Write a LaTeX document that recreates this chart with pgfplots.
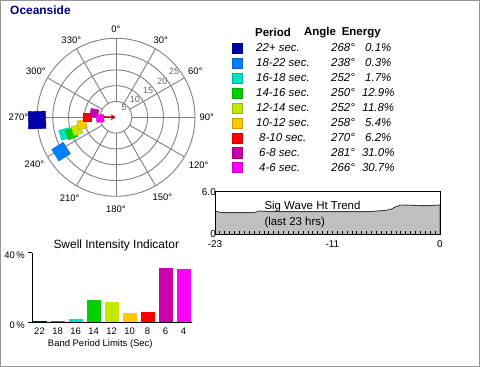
\documentclass[border=0pt]{standalone}
\usepackage{pgfplots}
\pgfplotsset{compat=1.18}
\usepackage{pgfplotstable}
\usetikzlibrary{arrows.meta}
\usepackage{fontspec}
\setmainfont{Liberation Sans}
\newcommand\fs[1]{\fontsize{#1}{#1}\selectfont}

\definecolor{ttl}{RGB}{0,0,128}
\definecolor{gridc}{RGB}{128,128,128}
\definecolor{ringlab}{RGB}{100,100,100}
\definecolor{arr}{RGB}{170,0,0}
\definecolor{areag}{RGB}{192,192,192}
\definecolor{frame}{RGB}{150,150,150}
\definecolor{cA}{RGB}{0,0,170}
\definecolor{cB}{RGB}{0,128,255}
\definecolor{cC}{RGB}{0,226,200}
\definecolor{cD}{RGB}{0,208,0}
\definecolor{cE}{RGB}{192,232,0}
\definecolor{cF}{RGB}{255,200,0}
\definecolor{cG}{RGB}{255,0,0}
\definecolor{cH}{RGB}{204,0,170}
\definecolor{cI}{RGB}{255,0,255}

\pgfplotsset{colormap={bands}{rgb255=(0,0,170) rgb255=(0,128,255) rgb255=(0,226,200) rgb255=(0,208,0) rgb255=(192,232,0) rgb255=(255,200,0) rgb255=(255,0,0) rgb255=(204,0,170) rgb255=(255,0,255)}}

% band: direction (deg), radius (period), half side of square, colour index
\pgfplotstableread{
ang r hs c
268 25 8.7 0
238 20.5 6.8 1
252 17 5.0 2
250 15 4.9 3
252 13 4.7 4
258 11 4.4 5
270 9 4.0 6
281 7 4.0 7
266 5 3.7 8
}\bands

\pgfplotstableread{
h v
-23 3.30
-22.5 3.10
-22 3.06
-21 3.06
-20 3.06
-19 3.06
-18.5 3.30
-18 3.25
-17 3.20
-16 3.20
-15 3.20
-14 3.20
-13 3.20
-12 3.20
-11 3.20
-10 3.20
-9 3.20
-8 3.20
-7 3.22
-6 3.34
-5.5 3.40
-5 3.55
-4.5 3.90
-4 4.14
-3 4.10
-2 4.05
-1 4.05
0 4.14
}\trend

\begin{document}
\begin{tikzpicture}
\useasboundingbox (0,0) rectangle (480bp,367bp);
\draw[frame, line width=1bp] (0.5bp,0.5bp) rectangle (479.5bp,366.5bp);

\node[anchor=base west, inner sep=0, text=ttl, font=\bfseries\fs{12}] at (10bp,352bp) {Oceanside};

% ---------- polar plot ----------
\begin{axis}[at={(116bp,249.7bp)}, anchor=origin, scale only axis,
  width=158bp, height=158bp, xmin=-25, xmax=25, ymin=-25, ymax=25,
  hide axis, clip=false, colormap name=bands, point meta min=0, point meta max=8]
  \pgfplotsinvokeforeach{5,10,15,20,25}{\draw[gridc, line width=0.9bp] (axis cs:0,0) circle[radius=#1];}
  \pgfplotsinvokeforeach{0,30,60,90,120,150,180,210,240,270,300,330}{
    \draw[gridc, line width=0.9bp] (axis cs:{5*sin(#1)},{5*cos(#1)}) -- (axis cs:{25*sin(#1)},{25*cos(#1)});}
  \begin{scope}[font=\fs{9.5}]
  \node at (axis cs:{27.8*sin(0)},{27.8*cos(0)}) {0°};
  \node at (axis cs:{28.3*sin(30)},{28.3*cos(30)}) {30°};
  \node at (axis cs:{29*sin(60)},{29*cos(60)}) {60°};
  \node at (axis cs:{28.7*sin(90)},{28.7*cos(90)}) {90°};
  \node at (axis cs:{30.2*sin(120)},{30.2*cos(120)}) {120°};
  \node at (axis cs:{29.3*sin(150)},{29.3*cos(150)}) {150°};
  \node at (axis cs:{29*sin(180)},{29*cos(180)}) {180°};
  \node at (axis cs:{29.4*sin(210)},{29.4*cos(210)}) {210°};
  \node at (axis cs:{29.8*sin(240)},{29.8*cos(240)}) {240°};
  \node at (axis cs:{30.9*sin(270)},{30.9*cos(270)}) {270°};
  \node at (axis cs:{29.3*sin(300)},{29.3*cos(300)}) {300°};
  \node at (axis cs:{28.3*sin(330)},{28.3*cos(330)}) {330°};
  \end{scope}
  \begin{scope}[font=\fs{9}, text=ringlab]
  \node at (axis cs:2.5,3.2) {5};
  \node at (axis cs:6.0,5.7) {10};
  \node at (axis cs:10.2,8.6) {15};
  \node at (axis cs:14.7,11.5) {20};
  \node at (axis cs:18.4,14.4) {25};
  \end{scope}
  \addplot[scatter, only marks, mark=square*, point meta=explicit,
    visualization depends on={\thisrow{hs} \as \mhs},
    visualization depends on={90-\thisrow{ang} \as \mrot},
    scatter/@pre marker code/.append style={/tikz/mark size=\mhs, /tikz/rotate=\mrot}]
    table[x expr={\thisrow{r}*sin(\thisrow{ang})}, y expr={\thisrow{r}*cos(\thisrow{ang})}, meta=c] {\bands};
  \addplot[arr, line width=1.6bp, -{Stealth[length=5bp,width=6bp]}] coordinates {(-4.3,0.1) (-0.1,0)};
\end{axis}

% ---------- legend table ----------
\begin{axis}[at={(230bp,191.8bp)}, anchor=south west, scale only axis,
  width=170bp, height=150bp, xmin=230, xmax=400, ymin=-1.5, ymax=8.5, y dir=reverse,
  hide axis, clip=false, colormap name=bands, point meta min=0, point meta max=8]
  \addplot[scatter, only marks, mark=square*, mark size=5bp, point meta=explicit]
    table[x expr=237, y=c, meta=c] {\bands};
  \begin{scope}[font=\bfseries\fs{11.5}]
  \node[anchor=west] at (axis cs:251.7,-1) {Period};
  \node[anchor=west] at (axis cs:300.7,-1) {Angle};
  \node[anchor=west] at (axis cs:338.3,-1) {Energy};
  \end{scope}
  \begin{scope}[font=\itshape\fs{11.5}]
  \node[anchor=west] at (axis cs:252.7,0) {22+ sec.};
  \node[anchor=west] at (axis cs:252.7,1) {18-22 sec.};
  \node[anchor=west] at (axis cs:252.7,2) {16-18 sec.};
  \node[anchor=west] at (axis cs:252.7,3) {14-16 sec.};
  \node[anchor=west] at (axis cs:252.7,4) {12-14 sec.};
  \node[anchor=west] at (axis cs:252.7,5) {10-12 sec.};
  \node[anchor=west] at (axis cs:255.7,6) {8-10 sec.};
  \node[anchor=west] at (axis cs:255.7,7) {6-8 sec.};
  \node[anchor=west] at (axis cs:255.7,8) {4-6 sec.};
  \node at (axis cs:343,0) {268°};
  \node at (axis cs:343,1) {238°};
  \node at (axis cs:343,2) {252°};
  \node at (axis cs:343,3) {250°};
  \node at (axis cs:343,4) {252°};
  \node at (axis cs:343,5) {258°};
  \node at (axis cs:343,6) {270°};
  \node at (axis cs:343,7) {281°};
  \node at (axis cs:343,8) {266°};
  \node at (axis cs:378.3,0) {0.1\%};
  \node at (axis cs:378.3,1) {0.3\%};
  \node at (axis cs:378.3,2) {1.7\%};
  \node at (axis cs:378.3,3) {12.9\%};
  \node at (axis cs:378.3,4) {11.8\%};
  \node at (axis cs:378.3,5) {5.4\%};
  \node at (axis cs:378.3,6) {6.2\%};
  \node at (axis cs:378.3,7) {31.0\%};
  \node at (axis cs:378.3,8) {30.7\%};
  \end{scope}
\end{axis}

% ---------- trend ----------
\begin{axis}[at={(215bp,132.5bp)}, anchor=south west, scale only axis,
  width=225bp, height=42.8bp, xmin=-23, xmax=0, ymin=0, ymax=6,
  xtick={-23,-11,0}, xticklabels={-23,-11,0}, minor xtick={-23,-22.5,...,0},
  ytick={0,6}, yticklabels={0,6.0}, xtick pos=left, tick align=inside,
  major tick length=3bp, minor tick length=3bp, ytick style={draw=none},
  xtick style={black, line width=0.8bp}, minor tick style={black, line width=0.8bp},
  axis line style={black, line width=0.9bp}, axis on top,
  every tick label/.append style={font=\fs{10}},
  yticklabel style={xshift=1.5bp, inner sep=0.5bp}, xticklabel style={yshift=-5bp, inner sep=0.5bp}]
  \addplot[fill=areag, draw=black!75, line width=0.9bp] table {\trend} \closedcycle;
\end{axis}
\node[anchor=base west, inner sep=0, font=\fs{11.5}] at (264.3bp,157.5bp) {Sig Wave Ht Trend};
\node[anchor=base west, inner sep=0, font=\fs{11.5}] at (264.3bp,141.5bp) {(last 23 hrs)};

% ---------- swell intensity bars ----------
\begin{axis}[at={(32.3bp,44.7bp)}, anchor=south west, scale only axis,
  width=159.4bp, height=69.6bp, xmin=-0.4, xmax=8.45, ymin=0, ymax=40,
  axis lines=left, axis line style={-, black, line width=0.9bp},
  ybar, bar width=14bp,
  xtick={0,1,2,3,4,5,6,7,8}, xticklabels={22,18,16,14,12,10,8,6,4},
  x tick style={draw=none}, ytick={0,40}, yticklabels={0\,\%,40\,\%},
  tick align=outside, major tick length=4bp, y tick style={black, line width=0.9bp},
  every tick label/.append style={font=\fs{9.5}},
  yticklabel style={yshift=-3bp}, xticklabel style={yshift=1.5bp}]
  \addplot[fill=cA, draw=none, bar shift=0pt] coordinates {(0,0.7)};
  \addplot[fill=cB, draw=none, bar shift=0pt] coordinates {(1,0.7)};
  \addplot[fill=cC, draw=none, bar shift=0pt] coordinates {(2,1.9)};
  \addplot[fill=cD, draw=none, bar shift=0pt] coordinates {(3,12.9)};
  \addplot[fill=cE, draw=none, bar shift=0pt] coordinates {(4,11.8)};
  \addplot[fill=cF, draw=none, bar shift=0pt] coordinates {(5,5.4)};
  \addplot[fill=cG, draw=none, bar shift=0pt] coordinates {(6,6.2)};
  \addplot[fill=cH, draw=none, bar shift=0pt] coordinates {(7,31.0)};
  \addplot[fill=cI, draw=none, bar shift=0pt] coordinates {(8,30.7)};
\end{axis}
\node[anchor=base, inner sep=0, font=\fs{12}] at (116.3bp,118.7bp) {Swell Intensity Indicator};
\node[anchor=base, inner sep=0, font=\fs{9.5}] at (100.3bp,21bp) {Band Period Limits (Sec)};
\end{tikzpicture}
\end{document}
